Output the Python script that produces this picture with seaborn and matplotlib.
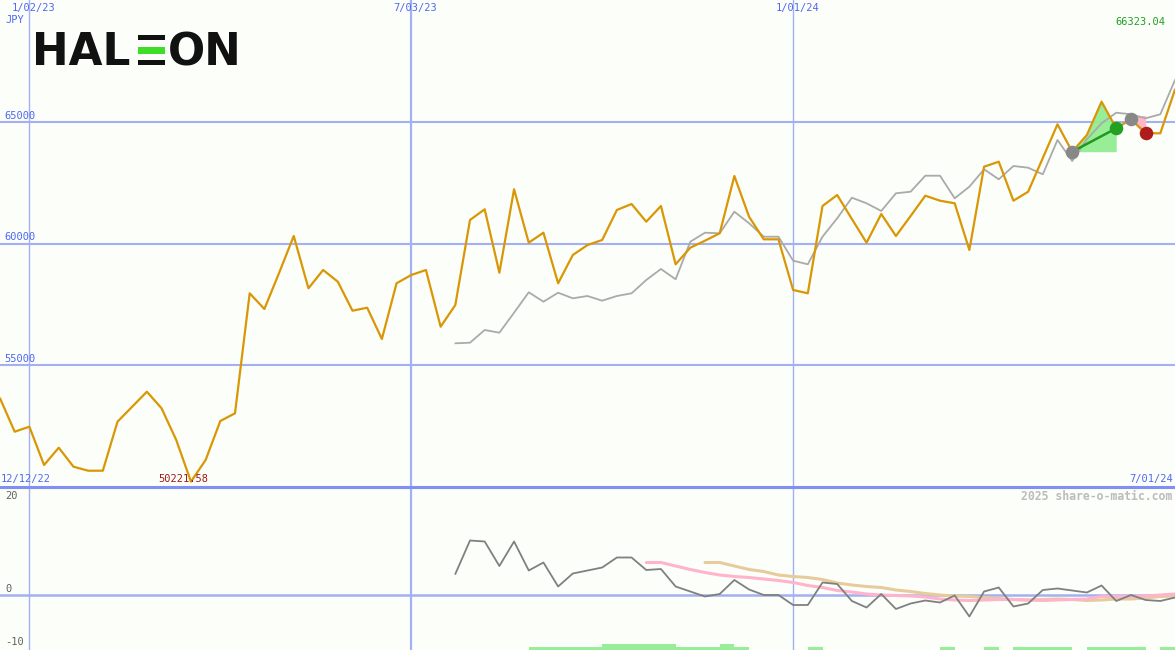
import matplotlib
matplotlib.use("Agg")
import matplotlib.pyplot as plt
import matplotlib.patches as mpatches
import numpy as np
import pandas as pd
import seaborn as sns

# ---------------- data ----------------
weeks = pd.date_range("2022-12-19", "2024-07-01", freq="7D")  # 81 weekly dates

price = [53643, 52271, 52476, 50903, 51614, 50834, 50669, 50669, 52682, 53298,
         53914, 53232, 51930, 50221.58, 51109, 52710, 53027, 57955, 57310, 58789,
         60308, 58160, 58912, 58431, 57240, 57363, 56078, 58366, 58706, 58912,
         56583, 57474, 60965, 61405, 58801, 62226, 60033, 60444, 58366, 59528,
         59938, 60144, 61376, 61622, 60895, 61540, 59146, 59828, 60115, 60419,
         62772, 61101, 60172, 60172, 58090, 57955, 61540, 61992, 61006, 60033,
         61211, 60308, 61129, 61963, 61758, 61651, 59733, 63154, 63359, 61758,
         62127, 63511, 64895, 63770, 64456, 65823, 64731, 65101, 64526, 64526,
         66323.04]

avg_start = 31
avg_line = [55901, 55926, 56448, 56337, 57158, 57996, 57610, 57979, 57749, 57844,
            57651, 57844, 57955, 58501, 58953, 58530, 60074, 60444, 60419, 61306,
            60830, 60279, 60279, 59294, 59146, 60279, 61035, 61881, 61651, 61335,
            62062, 62127, 62784, 62784, 61856, 62333, 63047, 62637, 63183, 63113,
            62842, 64251, 63388, 64279, 64936, 65372, 65306, 65142, 65306, 66715]

osc_start = 31
oscillator = [4.2, 10.9, 10.7, 5.8, 10.7, 4.9, 6.5, 1.7, 4.3, 4.9,
              5.5, 7.5, 7.5, 5.0, 5.2, 1.7, 0.7, -0.3, 0.2, 3.0,
              1.1, 0.0, 0.0, -2.0, -2.0, 2.5, 2.2, -1.2, -2.5, 0.2,
              -2.8, -1.7, -1.1, -1.5, -0.1, -4.3, 0.7, 1.5, -2.3, -1.7,
              1.0, 1.3, 0.9, 0.5, 1.9, -1.2, 0.0, -1.0, -1.2, -0.5]

pink_start = 44
pink_line = [6.5, 6.5, 5.8, 5.1, 4.5, 4.0, 3.7, 3.5, 3.2, 2.9,
             2.5, 1.9, 1.5, 0.9, 0.6, 0.2, 0.0, -0.1, -0.2, -0.4,
             -0.8, -1.0, -1.1, -1.0, -0.9, -0.9, -1.0, -1.1, -1.0, -0.9,
             -0.8, -0.3, -0.3, -0.3, -0.2, 0.0, 0.2]

tan_start = 48
tan_line = [6.5, 6.5, 5.8, 5.1, 4.7, 4.0, 3.7, 3.5, 3.1, 2.4,
            2.0, 1.7, 1.5, 1.0, 0.7, 0.3, 0.0, -0.2, -0.3, -0.5,
            -0.7, -0.9, -1.0, -0.9, -0.8, -0.9, -1.1, -1.0, -0.8, -0.8,
            -0.6, -0.3, -0.2]

bar_weeks = [36, 37, 38, 39, 40, 41, 42, 43, 44, 45, 46, 47, 48, 49, 50,
             55, 64, 67, 69, 70, 71, 72, 74, 75, 76, 77, 79]
bar_tops = [-10.4, -10.4, -10.4, -10.4, -10.4, -9.8, -9.8, -9.8, -9.8, -9.8,
            -10.4, -10.4, -10.4, -9.8, -10.4, -10.4, -10.4, -10.4, -10.4, -10.4,
            -10.4, -10.4, -10.4, -10.4, -10.4, -10.4, -10.4]

gain_trade = (73, 76)
loss_trade = (77, 78)

price_ticks = [65000, 60000, 55000]
osc_ticks = [20, 0, -10]
vlines = ["2023-01-02", "2023-07-03", "2024-01-01"]
vline_labels = ["1/02/23", "7/03/23", "1/01/24"]
vline_widths = [1.0, 1.6, 1.0]

# ---------------- style ----------------
BG = "#fcfefa"
GRID = "#a3b0f2"
SEP = "#7f8ff2"
LBL = "#5068f0"
ORANGE = "#d99705"
W, H = 1175, 650

sns.set_style("white", {"axes.facecolor": BG, "figure.facecolor": BG})
plt.rcParams["font.family"] = ["DejaVu Sans Mono", "DejaVu Sans"]

fig = plt.figure(figsize=(W / 100, H / 100), dpi=100)
fig.patch.set_facecolor(BG)

def fx(x):
    return x / W

def fy(y):
    return 1 - y / H

ax = fig.add_axes([0, fy(487), 1, 487 / H])
ax2 = fig.add_axes([0, 0, 1, (H - 487) / H])
for a in (ax, ax2):
    a.set_facecolor(BG)
    for s in a.spines.values():
        s.set_visible(False)
    a.set_xlim(weeks[0], weeks[-1])

ax.set_ylim(50000, 70000)
ax2.set_ylim(-11, 21.6)

# grid
for v in price_ticks:
    ax.axhline(v, color=GRID, lw=1.5, zorder=1)
ax2.axhline(0, color=GRID, lw=1.8, zorder=1)
for d, lw in zip(vlines, vline_widths):
    ax.axvline(pd.Timestamp(d), color=GRID, lw=lw, zorder=1, snap=True)
    ax2.axvline(pd.Timestamp(d), color=GRID, lw=lw, zorder=1, snap=True)

# main panel
df_price = pd.DataFrame({"week": weeks, "price": price})
df_avg = pd.DataFrame({"week": weeks[avg_start:avg_start + len(avg_line)], "avg": avg_line})

sns.lineplot(data=df_avg, x="week", y="avg", ax=ax, color="#aaaaaa", lw=1.3, zorder=3)
sns.lineplot(data=df_price, x="week", y="price", ax=ax, color=ORANGE, lw=1.6, zorder=4)

# trade markers
g0, g1 = gain_trade
xs = weeks[g0:g1 + 1]
ys = np.array(price[g0:g1 + 1])
ax.fill_between(xs, ys, price[g0], where=ys >= price[g0], color="#92ee92", alpha=0.95,
                zorder=2, lw=0)
l0, l1 = loss_trade
xs2 = weeks[l0:l1 + 1]
ys2 = np.array(price[l0:l1 + 1])
ax.fill_between(xs2, ys2, price[l0] + 150, color="#ffb6c8", zorder=2, lw=0)
ax.plot([weeks[g0], weeks[g1]], [price[g0], price[g1]], color="#1f9a1f", lw=1.8, zorder=5)
ax.scatter([weeks[g0], weeks[l0]], [price[g0], price[l0]], s=95, color="#888888", zorder=6, lw=0)
ax.scatter([weeks[g1]], [price[g1]], s=95, color="#22a022", zorder=6, lw=0)
ax.scatter([weeks[l1]], [price[l1]], s=95, color="#b01c1c", zorder=6, lw=0)

# lower panel
ax2.bar(weeks[bar_weeks], [t - (-12) for t in bar_tops], bottom=-12, width=7, align="edge",
        color="#98ee98", lw=0, zorder=2)
df_osc = pd.DataFrame({"week": weeks[osc_start:osc_start + len(oscillator)], "v": oscillator})
df_pink = pd.DataFrame({"week": weeks[pink_start:pink_start + len(pink_line)], "v": pink_line})
df_tan = pd.DataFrame({"week": weeks[tan_start:tan_start + len(tan_line)], "v": tan_line})
sns.lineplot(data=df_tan, x="week", y="v", ax=ax2, color="#e6cc9c", lw=2.2, zorder=3)
sns.lineplot(data=df_pink, x="week", y="v", ax=ax2, color="#ffb4cc", lw=2.2, zorder=3)
sns.lineplot(data=df_osc, x="week", y="v", ax=ax2, color="#808080", lw=1.3, zorder=4)
for a in (ax, ax2):
    a.set_xlabel("")
    a.set_ylabel("")
    a.set_xticks([])
    a.set_yticks([])

# separator
fig.add_artist(plt.Line2D([0, 1], [fy(487), fy(487)], color=SEP, lw=2.2))

# ---------------- texts ----------------
fs = 7.5
for d, lab in zip(vlines, vline_labels):
    frac = (pd.Timestamp(d) - weeks[0]) / (weeks[-1] - weeks[0])
    fig.text(frac + fx(4), fy(8), lab, color=LBL, fontsize=fs, ha="center", va="center")
fig.text(fx(5), fy(20), "JPY", color=LBL, fontsize=fs, ha="left", va="center")
for v in price_ticks:
    yp = 487 - (v - 50000) * 0.02435
    fig.text(fx(4), fy(yp - 6), str(v), color=LBL, fontsize=fs, ha="left", va="center")
fig.text(fx(1), fy(479), "12/12/22", color=LBL, fontsize=fs, ha="left", va="center")
fig.text(fx(1173), fy(479), "7/01/24", color=LBL, fontsize=fs, ha="right", va="center")
fig.text(fx(183), fy(479), "50221.58", color="#a01818", fontsize=fs, ha="center", va="center")
fig.text(fx(1165), fy(22), "66323.04", color="#20a020", fontsize=fs, ha="right", va="center")
for v, yp in zip(osc_ticks, [496, 589, 642]):
    fig.text(fx(5), fy(yp), str(v), color="#606060", fontsize=fs, ha="left", va="center")
fig.text(fx(1172), fy(496), "2025 share-o-matic.com", color="#bcbcbc", fontsize=8.3,
         ha="right", va="center", fontweight="bold")

# logo
logo_kw = dict(color="#111111", fontsize=31.5, fontweight="bold", family="DejaVu Sans",
               va="baseline", ha="left")
fig.text(fx(32), fy(65), "HAL", **logo_kw)
for (y0, y1, c) in [(35, 40, "#111111"), (47, 54, "#3fdc28"), (60, 65, "#111111")]:
    fig.add_artist(mpatches.Rectangle((fx(138), fy(y1)), fx(165) - fx(138), (y1 - y0) / H,
                                      color=c, lw=0, transform=fig.transFigure))
fig.text(fx(168), fy(65), "ON", **logo_kw)

fig.savefig("out.png", dpi=100, facecolor=BG)
